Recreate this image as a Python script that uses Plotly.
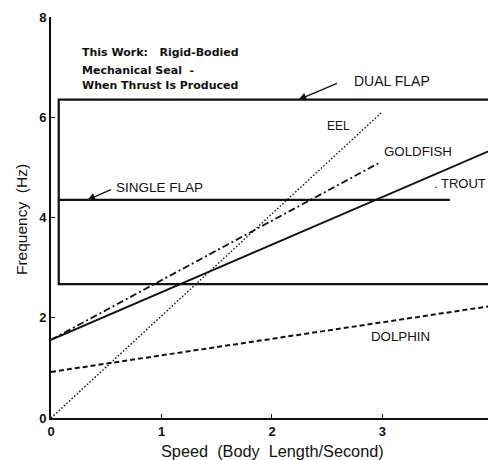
import plotly.graph_objects as go

# ---- data ----
trout_speed = [0.0, 4.0]
trout_freq = [1.56, 5.36]

goldfish_speed = [0.0, 2.97]
goldfish_freq = [1.56, 5.09]

eel_speed = [0.0, 2.99]
eel_freq = [0.0, 6.09]

dolphin_speed = [0.0, 4.0]
dolphin_freq = [0.92, 2.24]

dual_flap_speed = [4.0, 0.07, 0.07, 4.0]
dual_flap_freq = [6.35, 6.35, 2.67, 2.67]

single_flap_speed = [0.07, 3.61]
single_flap_freq = [4.35, 4.35]

x_ticks = [0, 1, 2, 3, 4]
y_ticks = [0, 2, 4, 6, 8]

FONT = "Liberation Sans, Arial, sans-serif"
HFONT = "DejaVu Sans, sans-serif"
BLACK = "#111111"
SP = "&nbsp;"

fig = go.Figure()

def add_line(x, y, dash="solid", width=2.0):
    fig.add_trace(go.Scatter(x=x, y=y, mode="lines",
                             line=dict(color=BLACK, width=width, dash=dash),
                             showlegend=False, hoverinfo="skip"))

add_line(dual_flap_speed, dual_flap_freq, width=2.2)
add_line(single_flap_speed, single_flap_freq, width=2.2)
add_line(trout_speed, trout_freq, width=2.0)
add_line(goldfish_speed, goldfish_freq, dash="7px,3px,2px,3px", width=1.8)
add_line(eel_speed, eel_freq, dash="1.5px,2px", width=1.4)
add_line(dolphin_speed, dolphin_freq, dash="5px,3px", width=2.0)

annots = []
def label(text, x, y, size=13, bold=False, xanchor="left", family=FONT):
    t = f"<b>{text}</b>" if bold else text
    annots.append(dict(text=t, x=x, y=y, xref="x", yref="y", showarrow=False,
                       xanchor=xanchor, yanchor="middle",
                       font=dict(family=family, size=size, color=BLACK)))

# header text
label(f"This{SP}Work:{SP}{SP}{SP}Rigid-Bodied", 0.26, 7.29, size=11, bold=True, family=HFONT)
label(f"Mechanical{SP}Seal{SP}{SP}-", 0.26, 6.93, size=11, bold=True, family=HFONT)
label(f"When{SP}Thrust{SP}Is{SP}Produced", 0.26, 6.63, size=11, bold=True, family=HFONT)

label("DUAL FLAP", 2.72, 6.73, size=14)
label("SINGLE FLAP", 0.57, 4.6, size=13.5)
label("EEL", 2.48, 5.83, size=12)
label("GOLDFISH", 3.0, 5.31, size=13.3)
label(". TROUT", 3.45, 4.67, size=13)
label("DOLPHIN", 2.875, 1.62, size=13.3)

# arrows
annots.append(dict(x=2.24, y=6.35, xref="x", yref="y", ax=40, ay=-17,
                   showarrow=True, arrowhead=2, arrowsize=1.2, arrowwidth=1.3,
                   arrowcolor=BLACK, text=""))
annots.append(dict(x=0.33, y=4.35, xref="x", yref="y", ax=25, ay=-11,
                   showarrow=True, arrowhead=2, arrowsize=1.2, arrowwidth=1.3,
                   arrowcolor=BLACK, text=""))

# axis titles
annots.append(dict(text=f"Speed{SP}{SP}(Body{SP}{SP}Length/Second)", x=0.508, y=-0.082,
                   xref="paper", yref="paper", showarrow=False,
                   xanchor="center", yanchor="middle",
                   font=dict(family=FONT, size=16.3, color=BLACK)))
annots.append(dict(text=f"Frequency{SP}{SP}(Hz)", x=-0.066, y=0.494,
                   xref="paper", yref="paper", showarrow=False, textangle=-90,
                   xanchor="center", yanchor="middle",
                   font=dict(family=FONT, size=15.5, color=BLACK)))

fig.update_layout(
    width=488, height=460,
    margin=dict(l=51, r=0, t=17, b=42),
    paper_bgcolor="white", plot_bgcolor="white",
    annotations=annots,
    showlegend=False,
)
fig.update_xaxes(range=[0, 3.955], tickvals=x_ticks, ticktext=[str(v) for v in x_ticks],
                 showline=True, linecolor=BLACK, linewidth=2, showgrid=False,
                 zeroline=False, ticks="inside", ticklen=4, tickcolor=BLACK,
                 tickfont=dict(family=FONT, size=13, color=BLACK, weight="bold"))
fig.update_yaxes(range=[0, 8], tickvals=y_ticks, ticktext=[str(v) for v in y_ticks],
                 showline=True, linecolor=BLACK, linewidth=2, showgrid=False,
                 zeroline=False, ticks="inside", ticklen=4, tickcolor=BLACK,
                 tickfont=dict(family=FONT, size=13, color=BLACK, weight="bold"))

fig.write_html("out.html")
